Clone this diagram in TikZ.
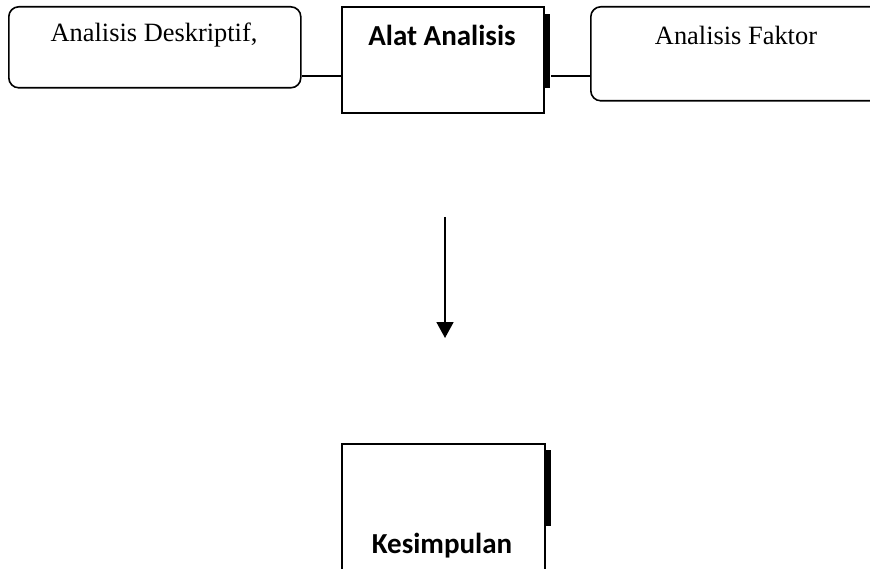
\documentclass[tikz,border=0pt]{standalone}
\usepackage{fontspec}
\setmainfont{Liberation Serif}
\newfontfamily\boxsans{Carlito}
\usetikzlibrary{arrows.meta}
\begin{document}
\begin{tikzpicture}[x=1pt,y=-1pt,line width=1.6pt,
  roundbox/.style={draw,rounded corners=10pt,inner sep=0pt,anchor=north west},
  plainbox/.style={draw,inner sep=0pt,anchor=north west},
  shade bar/.style={fill=black,draw=none,inner sep=0pt,anchor=north west},
  serif label/.style={font=\fontsize{26.4}{30}\selectfont,inner sep=0pt},
  sans label/.style={font=\boxsans\bfseries\fontsize{29}{32}\selectfont,inner sep=0pt},
  link/.style={line width=1.4pt},
  flow/.style={line width=1.8pt,-{Triangle[width=17pt,length=16pt]}}]
\clip (0,0) rectangle (870,569);
\useasboundingbox (0,0) rectangle (870,569);

% upper row of boxes
\node[roundbox,minimum width=292pt,minimum height=81pt] (desk) at (8,6) {};
\node[serif label] (deskt) at (154,35) {Analisis Deskriptif,};

\node[shade bar,minimum width=7pt,minimum height=74pt] (alatbar) at (542.5,13) {};
\node[plainbox,fill=white,minimum width=202pt,minimum height=106pt] (alat) at (341,6) {};
\node[sans label] (alatt) at (442,35) {Alat Analisis};

\node[roundbox,minimum width=300pt,minimum height=94pt] (fak) at (590,6) {};
\node[serif label] (fakt) at (736,35) {Analisis Faktor};

% links between the upper boxes
\draw[link] (desk.east |- 0,76) -- (alat.west |- 0,76);
\draw[link] (alatbar.east |- 0,76) -- (fak.west |- 0,76);

% downward arrow
\coordinate (arrtop) at (445,217);
\coordinate (arrend) at (445,338);
\draw[flow] (arrtop) -- (arrend);

% conclusion box
\node[shade bar,minimum width=7pt,minimum height=76pt] (kesbar) at (543,449) {};
\node[plainbox,fill=white,minimum width=203pt,minimum height=180pt] (kes) at (341,443) {};
\node[sans label,anchor=base] (kest) at (442,553) {Kesimpulan};
\end{tikzpicture}
\end{document}
